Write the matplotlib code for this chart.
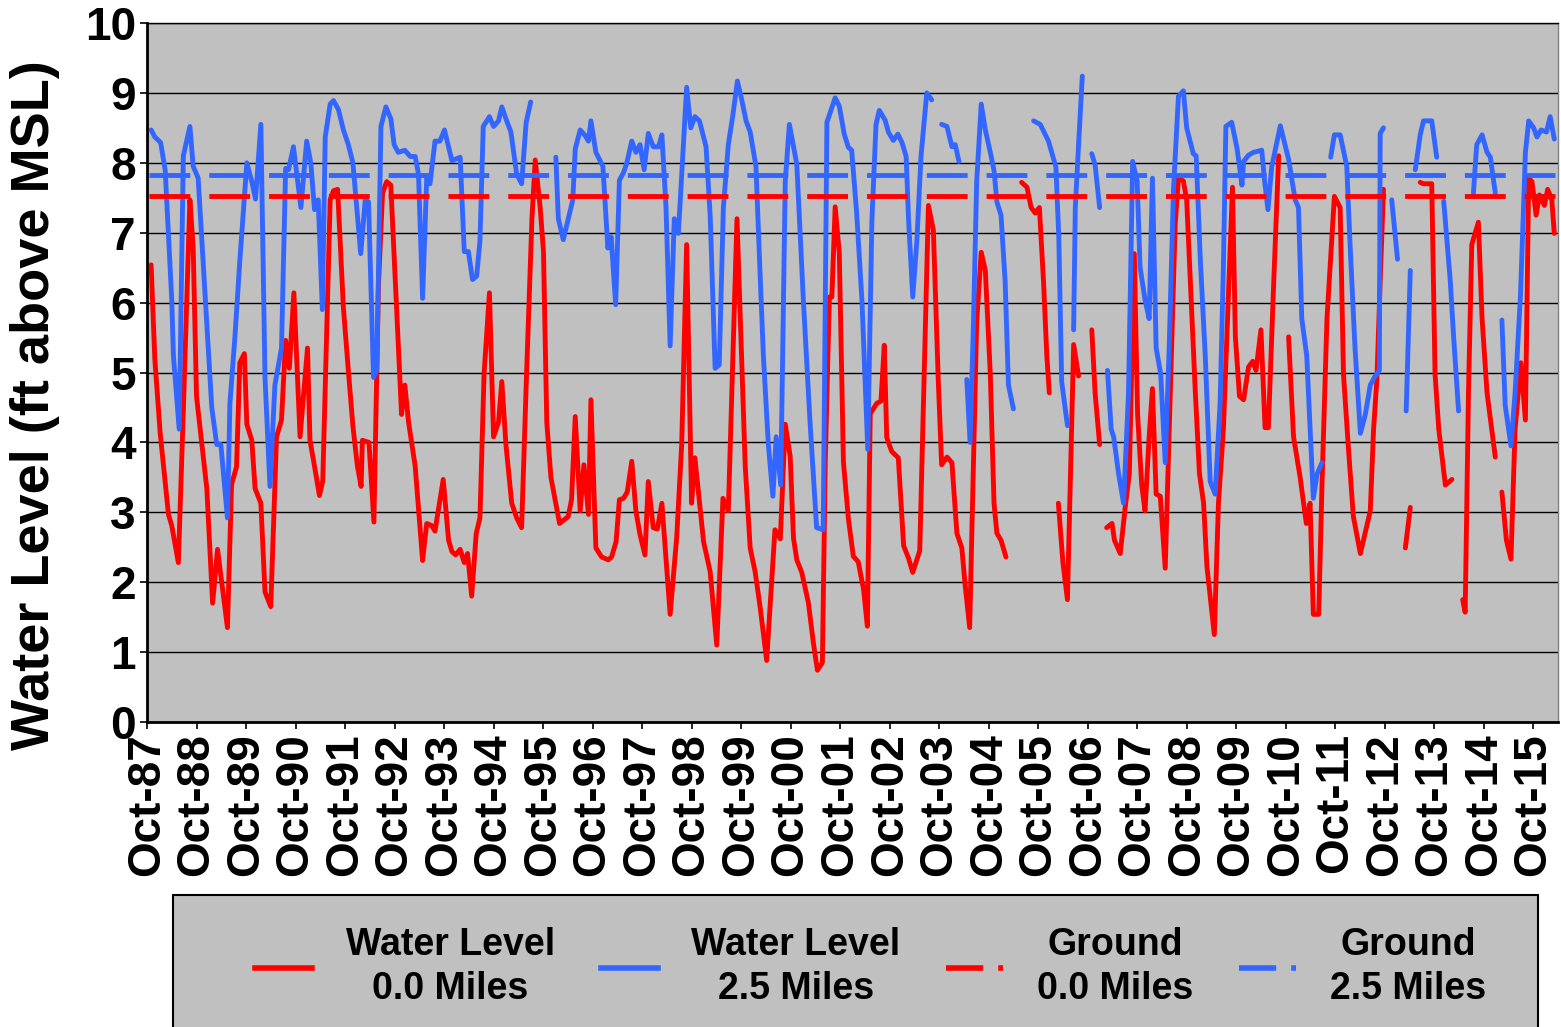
import numpy as np
import matplotlib
matplotlib.use('Agg')
import matplotlib.pyplot as plt
from matplotlib.patches import Rectangle
from matplotlib.lines import Line2D

# months since Oct-1987, water level (ft above MSL); None marks a gap in the record
well_0_0 = [
    (1.0, 6.54), (1.9, 5.19), (3.2, 4.13), (5.2, 2.97), (6.0, 2.81), (7.6, 2.28), (8.8, 4.45),
    (10.4, 7.47), (11.2, 6.78), (12.0, 4.66), (14.5, 3.34), (15.9, 1.70), (17.1, 2.47), (19.5, 1.35),
    (20.5, 3.40), (21.7, 3.65), (22.5, 5.14), (23.6, 5.27), (24.2, 4.26), (25.4, 4.03), (26.2, 3.34),
    (27.6, 3.13), (28.6, 1.86), (30.0, 1.65), (31.4, 4.08), (32.6, 4.32), (33.6, 5.46), (34.5, 5.06),
    (35.6, 6.14), (37.1, 4.08), (38.9, 5.35), (39.5, 4.03), (40.6, 3.66), (41.8, 3.24), (42.6, 3.45),
    (44.4, 7.47), (45.2, 7.60), (46.2, 7.62), (47.6, 5.93), (48.8, 5.03), (49.9, 4.24), (51.0, 3.66),
    (51.9, 3.37), (52.2, 4.03), (53.8, 4.00), (55.0, 2.86), (56.1, 6.25), (57.1, 7.57), (58.1, 7.73),
    (59.1, 7.68), (60.4, 6.04), (61.7, 4.40), (62.5, 4.82), (63.4, 4.29), (65.0, 3.66), (66.8, 2.31),
    (67.8, 2.84), (69.0, 2.81), (69.8, 2.73), (71.8, 3.47), (73.1, 2.60), (73.9, 2.44), (74.8, 2.39),
    (75.9, 2.47), (76.9, 2.28), (77.7, 2.41), (78.7, 1.80), (79.8, 2.70), (80.7, 2.92), (81.7, 4.98),
    (83.0, 6.14), (84.0, 4.08), (85.2, 4.29), (86.0, 4.87), (87.0, 3.97), (88.4, 3.13), (89.6, 2.92),
    (90.8, 2.78), (92.0, 4.98), (93.3, 7.20), (94.1, 8.04), (95.3, 7.36), (96.1, 6.73), (96.9, 4.29),
    (97.9, 3.50), (100.0, 2.84), (102.1, 2.94), (102.9, 3.18), (103.8, 4.37), (105.0, 3.02), (105.9, 3.68),
    (107.0, 2.97), (107.6, 4.61), (108.8, 2.49), (110.2, 2.36), (111.8, 2.32), (112.6, 2.36), (113.7, 2.58),
    (114.5, 3.18), (115.5, 3.20), (116.4, 3.29), (117.5, 3.73), (118.5, 3.02), (119.5, 2.68), (120.7, 2.39),
    (121.5, 3.44), (122.7, 2.78), (123.7, 2.76), (124.8, 3.13), (126.8, 1.54), (128.4, 2.65), (129.6, 3.97),
    (130.8, 6.83), (132.0, 3.13), (132.8, 3.78), (134.9, 2.58), (136.5, 2.15), (138.1, 1.10), (139.6, 3.20),
    (140.9, 3.02), (143.0, 7.20), (143.8, 5.77), (145.0, 3.66), (146.2, 2.49), (147.4, 2.15), (148.6, 1.65),
    (150.2, 0.88), (152.2, 2.75), (153.5, 2.62), (154.7, 4.26), (155.9, 3.80), (156.7, 2.63), (157.5, 2.32),
    (158.7, 2.14), (160.3, 1.71), (161.5, 1.14), (162.5, 0.74), (163.7, 0.85), (164.4, 3.72), (165.4, 6.08),
    (166.0, 6.08), (166.8, 7.37), (167.8, 6.71), (168.8, 3.72), (170.0, 2.91), (171.2, 2.37), (172.4, 2.29),
    (173.7, 1.89), (174.6, 1.37), (175.3, 4.41), (176.9, 4.56), (177.9, 4.59), (178.7, 5.39), (179.3, 4.07),
    (180.5, 3.87), (182.1, 3.78), (183.4, 2.52), (184.6, 2.34), (185.6, 2.14), (187.3, 2.45), (189.4, 7.39),
    (190.6, 7.04), (191.8, 4.87), (192.6, 3.68), (193.9, 3.79), (195.1, 3.71), (196.3, 2.70), (197.5, 2.49),
    (198.3, 1.96), (199.4, 1.35), (200.3, 3.66), (201.1, 5.72), (202.2, 6.72), (203.2, 6.46), (204.4, 4.98),
    (205.3, 3.13), (206.0, 2.70), (207.0, 2.60), (208.2, 2.36),
    None,
    (212.0, 7.72), (213.3, 7.65), (214.3, 7.36), (215.3, 7.28), (216.3, 7.36), (217.3, 6.30), (218.1, 5.24),
    (218.7, 4.71),
    None,
    (220.9, 3.13), (222.0, 2.28), (223.1, 1.75), (224.6, 5.40), (225.8, 4.95),
    None,
    (229.0, 5.61), (229.8, 4.71), (230.9, 3.97),
    None,
    (232.6, 2.78), (233.9, 2.84), (234.5, 2.60), (235.9, 2.41), (237.1, 3.07), (238.1, 3.55), (239.3, 6.70),
    (240.1, 4.40), (241.1, 3.39), (241.9, 3.02), (242.9, 4.08), (243.7, 4.77), (244.6, 3.26), (245.6, 3.23),
    (246.8, 2.20), (248.0, 4.66), (249.2, 7.10), (250.0, 7.78), (251.2, 7.74), (252.0, 7.47), (253.3, 5.77),
    (254.1, 4.71), (255.1, 3.55), (256.1, 3.13), (256.9, 2.23), (258.7, 1.25), (259.7, 3.13), (260.9, 4.19),
    (262.1, 6.09), (263.1, 7.65), (263.8, 5.51), (264.8, 4.66), (265.8, 4.61), (267.0, 5.08), (268.0, 5.16),
    (268.8, 5.03), (270.0, 5.61), (271.0, 4.21), (271.8, 4.21), (273.1, 6.30), (274.3, 8.10),
    None,
    (276.7, 5.51), (277.9, 4.08), (279.5, 3.50), (281.0, 2.84), (281.9, 3.13), (282.7, 1.54), (284.0, 1.54),
    (284.8, 3.40), (286.0, 5.77), (287.8, 7.52), (289.2, 7.36), (290.0, 4.98), (291.2, 3.92), (292.4, 2.94),
    (294.1, 2.41), (296.5, 3.02), (297.3, 4.19), (298.1, 4.90), (298.9, 6.30), (299.7, 7.62),
    None,
    (305.0, 2.49), (306.2, 3.07),
    None,
    (308.6, 7.72), (309.4, 7.70), (311.4, 7.70), (312.2, 4.98), (313.1, 4.19), (314.7, 3.39), (316.3, 3.47),
    None,
    (318.9, 1.75), (319.5, 1.57), (320.3, 4.71), (321.1, 6.83), (322.7, 7.15), (323.6, 5.77), (324.8, 4.71),
    (326.8, 3.79),
    None,
    (328.4, 3.29), (329.5, 2.60), (330.6, 2.33), (331.6, 4.19), (333.0, 5.14), (334.1, 4.32), (334.9, 7.78),
    (335.7, 7.73), (336.7, 7.25), (337.5, 7.54), (338.7, 7.39), (339.5, 7.62), (340.5, 7.47), (341.1, 6.99),
]

well_2_5 = [
    (1.0, 8.47), (1.9, 8.37), (3.3, 8.29), (4.4, 7.90), (6.0, 6.04), (6.4, 5.24), (7.8, 4.19), (8.8, 8.10),
    (10.4, 8.52), (11.2, 7.95), (12.4, 7.78), (14.1, 6.09), (15.7, 4.50), (16.9, 3.97), (17.9, 3.97),
    (19.5, 2.92), (20.1, 4.56), (21.3, 5.50), (22.5, 6.60), (24.2, 8.00), (25.4, 7.73), (26.3, 7.48),
    (27.6, 8.55), (28.6, 4.93), (29.8, 3.37), (31.0, 4.82), (32.6, 5.35), (33.6, 7.92), (34.3, 7.90),
    (35.5, 8.23), (37.3, 7.36), (38.7, 8.31), (39.7, 8.00), (40.6, 7.33), (41.5, 7.47), (42.5, 5.90),
    (43.2, 8.37), (44.4, 8.84), (45.2, 8.89), (46.4, 8.76), (47.6, 8.47), (48.8, 8.26), (49.9, 8.00),
    (51.8, 6.70), (52.9, 7.47), (53.7, 7.44), (54.9, 4.93), (55.7, 5.03), (56.7, 8.52), (57.9, 8.80),
    (59.1, 8.63), (59.9, 8.26), (60.9, 8.15), (62.5, 8.18), (63.8, 8.09), (65.0, 8.09), (65.8, 7.84),
    (66.8, 6.06), (67.8, 7.78), (68.6, 7.70), (69.8, 8.31), (71.0, 8.31), (72.1, 8.47), (73.9, 8.03),
    (75.9, 8.08), (76.9, 6.73), (77.9, 6.73), (78.9, 6.33), (79.9, 6.38), (80.7, 6.88), (81.5, 8.52),
    (83.0, 8.66), (84.0, 8.52), (85.2, 8.60), (86.0, 8.80), (87.0, 8.63), (88.2, 8.44), (89.6, 7.84),
    (90.8, 7.70), (91.9, 8.58), (93.0, 8.87),
    None,
    (99.1, 8.08), (99.7, 7.20), (100.9, 6.90), (102.1, 7.20), (103.2, 7.47), (103.8, 8.20), (105.0, 8.47),
    (106.2, 8.39), (107.0, 8.31), (107.6, 8.60), (108.8, 8.15), (109.4, 8.08), (110.5, 7.95), (111.7, 6.78),
    (112.5, 6.94), (113.6, 5.97), (114.5, 7.75), (115.5, 7.86), (116.3, 8.00), (117.5, 8.31), (118.5, 8.15),
    (119.5, 8.26), (120.5, 7.90), (121.5, 8.42), (122.7, 8.23), (124.0, 8.23), (124.8, 8.40), (125.8, 7.36),
    (126.8, 5.38), (127.8, 7.20), (128.8, 6.99), (129.9, 8.15), (130.8, 9.08), (131.8, 8.50), (132.8, 8.66),
    (133.9, 8.60), (135.5, 8.23), (136.5, 7.25), (137.7, 5.06), (138.7, 5.11), (139.7, 7.36), (140.9, 8.26),
    (142.0, 8.68), (143.1, 9.17), (144.2, 8.89), (145.2, 8.60), (146.2, 8.44), (147.6, 7.95), (148.6, 6.41),
    (149.4, 5.24), (150.6, 3.97), (151.7, 3.23), (152.5, 4.08), (153.6, 3.39), (154.7, 7.73), (155.7, 8.55),
    (157.5, 7.98), (159.1, 6.02), (160.7, 4.30), (162.3, 2.78), (163.9, 2.75), (164.8, 8.58), (166.8, 8.93),
    (167.8, 8.81), (169.0, 8.41), (170.0, 8.22), (170.8, 8.18), (172.0, 7.29), (173.3, 6.02), (174.7, 3.90),
    (175.7, 7.17), (176.7, 8.55), (177.5, 8.75), (178.9, 8.61), (179.7, 8.44), (180.9, 8.32), (182.0, 8.41),
    (183.0, 8.29), (184.0, 8.09), (184.6, 7.17), (185.6, 6.08), (186.6, 6.88), (187.6, 8.09), (189.0, 9.00),
    (190.2, 8.90),
    None,
    (192.6, 8.55), (193.9, 8.52), (195.1, 8.23), (195.9, 8.26), (196.8, 8.02),
    None,
    (198.7, 4.90), (199.5, 4.00), (200.3, 5.67), (201.1, 7.73), (202.2, 8.84), (203.2, 8.47), (204.4, 8.15),
    (205.3, 7.89), (206.0, 7.44), (207.0, 7.25), (208.0, 6.30), (208.8, 4.82), (210.0, 4.48),
    None,
    (214.9, 8.60), (216.5, 8.55), (218.5, 8.31), (220.3, 7.94), (221.0, 6.94), (221.7, 4.87), (223.1, 4.24),
    None,
    (224.6, 5.61), (225.0, 7.36), (225.8, 8.26), (226.7, 9.24),
    None,
    (229.0, 8.13), (229.8, 7.97), (230.9, 7.36),
    None,
    (232.8, 5.03), (233.7, 4.19), (234.3, 4.08), (235.5, 3.55), (236.7, 3.13), (237.9, 4.71), (238.9, 8.02),
    (240.0, 7.73), (240.7, 6.51), (241.9, 6.04), (242.9, 5.77), (243.7, 7.78), (244.6, 5.35), (245.7, 4.98),
    (246.8, 3.71), (247.7, 5.24), (248.8, 7.62), (250.0, 8.95), (251.2, 9.03), (252.0, 8.50), (253.6, 8.13),
    (254.3, 8.10), (255.3, 6.62), (256.5, 5.24), (257.7, 3.44), (258.9, 3.26), (260.1, 4.56), (260.9, 6.52),
    (261.5, 8.52), (262.9, 8.58), (264.2, 8.21), (265.4, 7.68), (265.8, 8.02), (267.0, 8.11), (268.2, 8.15),
    (270.2, 8.18), (270.9, 7.73), (271.7, 7.33), (272.6, 7.94), (273.9, 8.31), (274.7, 8.53), (276.7, 8.05),
    (278.3, 7.47), (279.1, 7.36), (279.9, 5.77), (281.1, 5.24), (282.7, 3.20), (283.6, 3.55), (284.8, 3.71),
    None,
    (286.9, 8.08), (287.8, 8.40), (289.2, 8.40), (290.8, 7.95), (291.6, 6.83), (292.8, 5.35), (294.1, 4.13),
    (295.3, 4.40), (296.5, 4.82), (297.7, 4.95), (298.7, 5.03), (298.9, 8.42), (299.7, 8.50),
    None,
    (301.7, 7.47), (303.1, 6.62),
    None,
    (305.2, 4.45), (306.2, 6.46),
    None,
    (307.4, 7.90), (308.6, 8.40), (309.4, 8.60), (311.4, 8.60), (312.6, 8.08),
    None,
    (314.3, 7.45), (315.9, 6.30), (316.7, 5.51), (317.9, 4.45),
    None,
    (321.5, 7.57), (322.3, 8.26), (323.6, 8.40), (324.8, 8.15), (325.6, 8.08), (326.8, 7.57),
    None,
    (328.4, 5.75), (329.2, 4.53), (330.6, 3.95), (331.6, 4.71), (332.9, 6.09), (334.1, 8.15), (334.9, 8.60),
    (336.1, 8.50), (336.9, 8.37), (337.9, 8.47), (339.2, 8.44), (340.1, 8.66), (341.1, 8.34),
]

ground_months = [0.6, 341.3]
ground_0_0 = 7.53
ground_2_5 = 7.83

tick_years = list(range(1987, 2016))
tick_labels = [f"Oct-{y % 100:02d}" for y in tick_years]

series_labels = ['Water Level\n0.0 Miles', 'Water Level\n2.5 Miles',
                 'Ground\n0.0 Miles', 'Ground\n2.5 Miles']


def to_xy(readings):
    x = [np.nan if r is None else r[0] for r in readings]
    y = [np.nan if r is None else r[1] for r in readings]
    return np.array(x, dtype=float), np.array(y, dtype=float)


plt.rcParams['font.family'] = ['Liberation Sans', 'DejaVu Sans']
plt.rcParams['font.weight'] = 'bold'

W, H = 1561, 1027
fig = plt.figure(figsize=(W / 100, H / 100), dpi=100)
fig.patch.set_facecolor('white')
ax = fig.add_axes([147 / W, 1 - 722 / H, (1558 - 147) / W, (722 - 23) / H])
ax.set_facecolor('#C0C0C0')

RED = '#FF0000'
BLUE = '#3366FF'
LW = 3.5

x0, y0 = to_xy(well_0_0)
x1, y1 = to_xy(well_2_5)
ax.plot(x0, y0, color=RED, lw=LW, solid_joinstyle='round', solid_capstyle='round')
ax.plot(x1, y1, color=BLUE, lw=LW, solid_joinstyle='round', solid_capstyle='round')
ax.plot(ground_months, [ground_0_0] * 2, color=RED, lw=LW, dashes=(8.4, 3.9))
ax.plot(ground_months, [ground_2_5] * 2, color=BLUE, lw=LW, dashes=(8.4, 3.9))

ax.set_xlim(0, 342)
ax.set_ylim(0, 10)
ax.set_yticks(range(0, 11))
ax.set_xticks([12 * i for i in range(len(tick_years))])
ax.set_xticklabels(tick_labels, rotation=90, fontsize=33, fontweight='bold')
ax.tick_params(axis='y', labelsize=33, length=5, width=1.2, pad=3)
ax.tick_params(axis='x', length=5, width=1.2, pad=3)
ax.yaxis.grid(True, color='black', lw=1)
ax.set_axisbelow(True)
for side in ['left', 'bottom', 'top']:
    ax.spines[side].set_color('black')
ax.spines['left'].set_linewidth(2)
ax.spines['bottom'].set_linewidth(2)
ax.spines['top'].set_linewidth(1)
ax.spines['right'].set_linewidth(1)
ax.spines['right'].set_color('#808080')

ax.set_ylabel('Water Level (ft above MSL)', fontsize=39, fontweight='bold')
ax.yaxis.set_label_coords((60 - 147) / (1558 - 147), (722 - 405) / (722 - 23))

# legend box and keys
fig.patches.append(Rectangle((173 / W, 1 - 1060 / H), (1538 - 173) / W, (1060 - 895) / H,
                             transform=fig.transFigure, facecolor='#C0C0C0',
                             edgecolor='black', lw=1.5, zorder=0))
keys = [Line2D([], [], color=RED, lw=4),
        Line2D([], [], color=BLUE, lw=4),
        Line2D([], [], color=RED, lw=4, dashes=(6.7, 2.7)),
        Line2D([], [], color=BLUE, lw=4, dashes=(6.7, 2.7))]
leg = fig.legend(keys, series_labels, loc='center', ncol=4, mode='expand',
                 bbox_to_anchor=(255 / W, 1 - 967 / H, (1486 - 255) / W, 0),
                 frameon=False, fontsize=27, handlelength=1.52, handletextpad=0.9,
                 borderpad=0, borderaxespad=0)
for t in leg.get_texts():
    t.set_multialignment('center')
    t.set_linespacing(1.3)
    t.set_fontweight('bold')

fig.savefig('out.png', dpi=100)
